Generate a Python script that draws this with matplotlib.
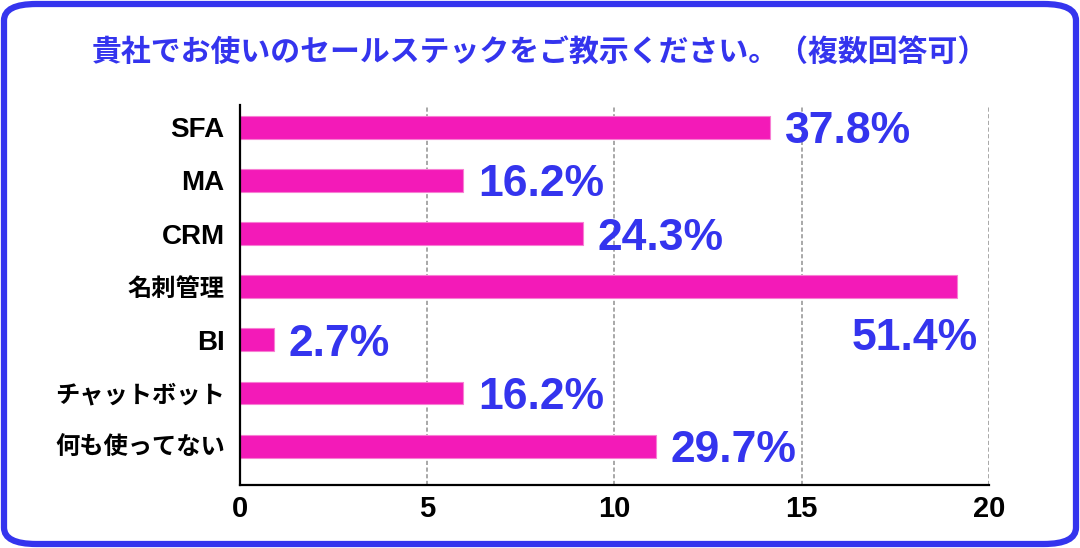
import matplotlib.pyplot as plt
from matplotlib.patches import FancyBboxPatch

plt.rcParams['font.family'] = ['Liberation Sans', 'Noto Sans CJK JP']

title = '貴社でお使いのセールステックをご教示ください。（複数回答可）'
categories = ['SFA', 'MA', 'CRM', '名刺管理', 'BI', 'チャットボット', '何も使ってない']
values = [14.15, 5.95, 9.15, 19.15, 0.9, 5.95, 11.1]
pct_labels = ['37.8%', '16.2%', '24.3%', '51.4%', '2.7%', '16.2%', '29.7%']
xticks = [0, 5, 10, 15, 20]

blue = '#3434EE'
pink = '#F31AB8'

fig = plt.figure(figsize=(10.8, 5.48), dpi=100)
ax = fig.add_axes([240 / 1080, 1 - 485 / 548, (988.7 - 240) / 1080, 380 / 548])

y = range(len(categories))
ax.barh(y, values, height=0.43, color=pink, edgecolor='#F77FD3', linewidth=0.8, zorder=3)

for i, (v, lab) in enumerate(zip(values, pct_labels)):
    if i == 3:
        # the longest bar gets its label underneath
        ax.annotate(lab, (v, i), xytext=(15, -45.7), textcoords='offset points',
                    ha='right', va='baseline', fontsize=32, fontweight='bold', color=blue)
    else:
        ax.annotate(lab, (v, i), xytext=(11, -11.5), textcoords='offset points',
                    ha='left', va='baseline', fontsize=32, fontweight='bold', color=blue)

ax.set_xlim(0, 20)
ax.set_ylim(6.73, -0.42)
ax.set_xticks(xticks)
ax.set_yticks(list(y))
ax.set_yticklabels(categories)
ax.tick_params(axis='both', length=0)
ax.tick_params(axis='y', pad=11)
ax.tick_params(axis='x', pad=7, labelsize=21)
for t in ax.get_xticklabels():
    t.set_fontweight('bold')
for t in ax.get_yticklabels():
    t.set_fontweight('bold')
    # latin labels look larger than the kana/kanji ones
    t.set_fontsize(20 if t.get_text().isascii() else 17.5)

ax.xaxis.grid(True, linestyle=(0, (2.5, 1.5)), color='#999999', linewidth=1.2, zorder=0)
ax.spines['top'].set_visible(False)
ax.spines['right'].set_visible(False)
ax.spines['left'].set_linewidth(1.6)
ax.spines['bottom'].set_linewidth(1.6)
ax.spines['left'].set_zorder(4)

fig.text(0.5, 1 - 52 / 548, title, ha='center', va='center', fontsize=21.5,
         fontweight='bold', color=blue)

border = FancyBboxPatch((4 / 1080, 4 / 548), 1072 / 1080, 540 / 548,
                        boxstyle='round,pad=0,rounding_size=0.03',
                        transform=fig.transFigure, fill=False,
                        edgecolor=blue, linewidth=4.5)
fig.patches.append(border)

fig.savefig('out.png', dpi=100)
